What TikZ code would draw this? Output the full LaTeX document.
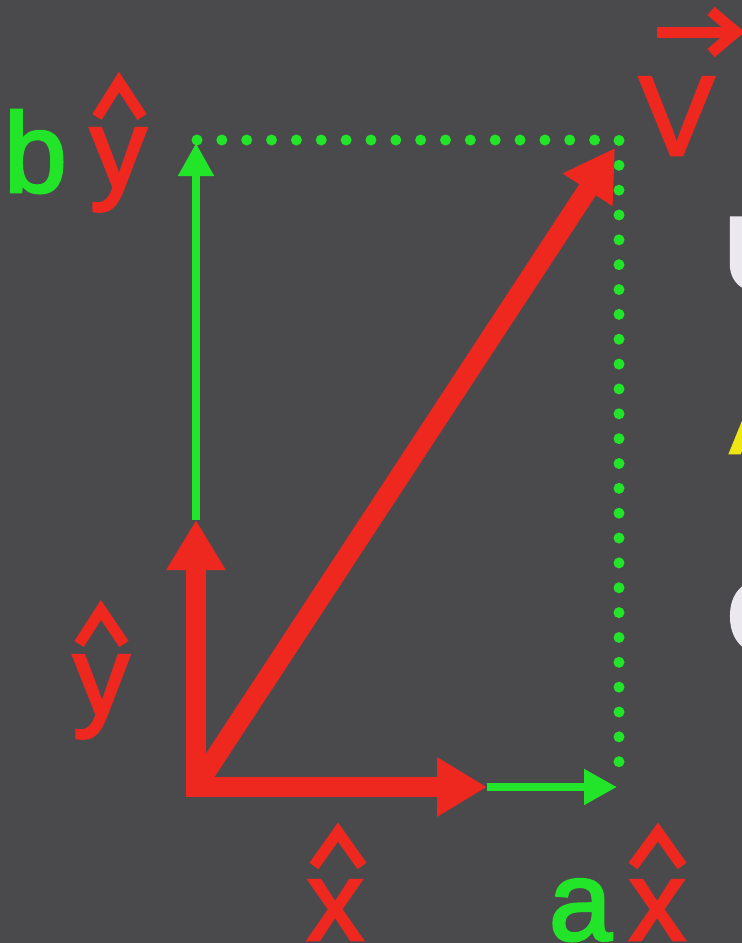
\documentclass[tikz,border=0pt]{standalone}
\usepackage{fontspec}
\setmainfont{Liberation Sans}
\newfontfamily\heavy[FakeBold=2.5]{Liberation Sans}
\usetikzlibrary{arrows.meta}
\definecolor{bg}{RGB}{74,74,77}
\definecolor{vred}{RGB}{238,40,30}
\definecolor{vgreen}{RGB}{34,228,40}
\definecolor{pale}{RGB}{236,232,240}
\definecolor{vyellow}{RGB}{240,230,20}
\tikzset{
  redvec/.style={draw=vred,line width=20pt,-{Triangle[length=50pt,width=56pt]},vred},
  greenvec/.style={draw=vgreen,line width=8pt,-{Triangle[length=33pt,width=34pt]},vgreen},
  dotline/.style={draw=vgreen,line width=11pt,line cap=round,dash pattern=on 0pt off 24.85pt},
  hat/.style={draw=vred,line width=11pt,miter limit=10},
  lbl/.style={inner sep=0pt,outer sep=0pt,anchor=base west,font=\heavy\fontsize{113}{113}\selectfont},
  edge/.style={inner sep=0pt,outer sep=0pt,anchor=base west}
}
\begin{document}
\begin{tikzpicture}[x=1pt,y=-1pt]
\useasboundingbox (0,0) rectangle (742,943);
\clip (0,0) rectangle (742,943);
\fill[bg] (0,0) rectangle (742,943);
% cut-off text at the right edge
\node[edge,text=pale,font=\heavy\fontsize{105}{105}\selectfont] (u) at (723,290) {U};
\node[edge,text=vyellow,font=\heavy\fontsize{100}{100}\selectfont] (ya) at (730,453) {A};
\node[edge,text=pale,font=\heavy\fontsize{103}{103}\selectfont] (c) at (726,652) {C};
% points
\coordinate (O) at (196,787);
\coordinate (Ob) at (196,797);
\coordinate (Ol) at (187,787);
\coordinate (Xr) at (487,787);
\coordinate (Xg) at (617,787);
\coordinate (Yr) at (196,520);
\coordinate (Yg) at (196,143);
\coordinate (Vt) at (615,148);
\coordinate (Ctl) at (197,140);
\coordinate (Ccor) at (619,140);
\coordinate (Cbr) at (619,765);
% dotted box
\draw[dotline] (Ctl) -- (Ccor) -- (Cbr);
% green components
\draw[greenvec] (Yr) -- (Yg);
\draw[greenvec] (Xr) -- (Xg);
% red unit vectors and V
\draw[redvec] (Ob) -- (Yr);
\draw[redvec] (Ol) -- (Xr);
\draw[redvec] (O) -- (Vt);
% labels
\node[lbl,text=vgreen] (b) at (4,192) {b};
\node[lbl,text=vred] (yb) at (90,188) {y};
\draw[hat] (97,117) -- (119,82) -- (142,117);
\node[lbl,text=vred] (yl) at (73,715) {y};
\draw[hat] (79,644) -- (101,610) -- (124,644);
\node[lbl,text=vred] (xl) at (307,940) {x};
\draw[hat] (314,866) -- (338,832) -- (362,866);
\node[lbl,text=vgreen] (a) at (549,940) {a};
\node[lbl,text=vred] (xa) at (629,940) {x};
\draw[hat] (633,866) -- (658,832) -- (682,866);
\node[lbl,text=vred] (v) at (639,155) {V};
\draw[draw=vred,line width=11pt] (657,32) -- (734,32);
\draw[draw=vred,line width=11pt,miter limit=10] (711,11) -- (736,32) -- (711,53);
\end{tikzpicture}
\end{document}
